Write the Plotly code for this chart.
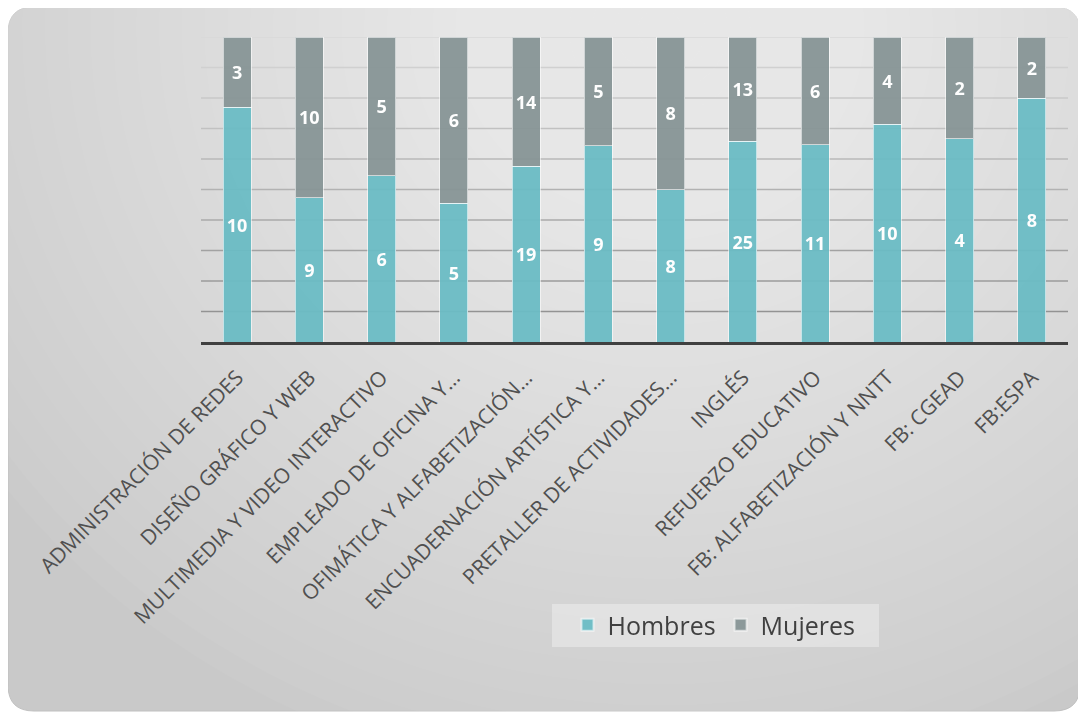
import plotly.graph_objects as go

categories = [
    "ADMINISTRACIÓN DE REDES",
    "DISEÑO GRÁFICO Y WEB",
    "MULTIMEDIA Y VIDEO INTERACTIVO",
    "EMPLEADO DE OFICINA Y…",
    "OFIMÁTICA Y ALFABETIZACIÓN…",
    "ENCUADERNACIÓN ARTÍSTICA Y…",
    "PRETALLER DE ACTIVIDADES…",
    "INGLÉS",
    "REFUERZO EDUCATIVO",
    "FB: ALFABETIZACIÓN Y NNTT",
    "FB: CGEAD",
    "FB:ESPA",
]
hombres = [10, 9, 6, 5, 19, 9, 8, 25, 11, 10, 4, 8]
mujeres = [3, 10, 5, 6, 14, 5, 8, 13, 6, 4, 2, 2]

OFF = 8  # browser body margin
W, H = 1086 - OFF, 715 - OFF
# screen-space plot area: x 201..1068, y 37..342
L, T = 201 - OFF, 37 - OFF
R = 1086 - 1068
B = 715 - 342
pw, ph = W - L - R, H - T - B


def px(x):  # screen x -> paper
    return (x - OFF - L) / pw


def py(y):  # screen y -> paper
    return (342 - y) / ph


fig = go.Figure()
for name, vals, col in (("Hombres", hombres, "#6bbcc5"), ("Mujeres", mujeres, "#879596")):
    fig.add_trace(go.Bar(
        x=categories, y=vals, name=name, opacity=0.95,
        marker=dict(color=col, line=dict(color="rgba(255,255,255,0.6)", width=1)),
        text=[str(v) for v in vals], textposition="inside", insidetextanchor="middle",
        textangle=0, constraintext="none",
        textfont=dict(color="white", size=18, family="Open Sans", weight="bold"),
        hoverinfo="skip",
    ))

shapes = []
# rounded background panel
x0, x1, y0, y1 = 8, 1080, 7, 711
r = 26
rx, ry = r / pw, r / ph
X0, X1, Y0, Y1 = px(x0), px(x1), py(y0), py(y1)
path = (f"M {X0+rx},{Y0} L {X1-rx},{Y0} Q {X1},{Y0} {X1},{Y0-ry} "
        f"L {X1},{Y1+ry} Q {X1},{Y1} {X1-rx},{Y1} L {X0+rx},{Y1} "
        f"Q {X0},{Y1} {X0},{Y1+ry} L {X0},{Y0-ry} Q {X0},{Y0} {X0+rx},{Y0} Z")
shapes.append(dict(type="path", path=path, xref="paper", yref="paper",
                   fillcolor="#c9c9c9", line=dict(color="#c0c0c0", width=1), layer="below"))
# soft radial highlight
n = 36
for i in range(n):
    f = 1 - i / n
    cx, cy = 660, 30
    ex, ey = 820 * f, 760 * f
    shapes.append(dict(type="circle", xref="paper", yref="paper",
                       x0=px(cx - ex), x1=px(cx + ex), y0=py(cy + ey), y1=py(cy - ey),
                       fillcolor="rgba(255,255,255,0.04)", line=dict(width=0), layer="below"))
# gridlines: lighter at top, darker near the axis
for k in range(1, 11):
    t = k / 10
    c = int(0x8c + (0xd8 - 0x8c) * t)
    shapes.append(dict(type="line", xref="paper", yref="y", x0=0, x1=1, y0=k * 10, y1=k * 10,
                       line=dict(color=f"rgb({c},{c},{c})", width=1.5), layer="below"))
# legend backdrop
shapes.append(dict(type="rect", xref="paper", yref="paper",
                   x0=px(552), x1=px(879), y0=py(647), y1=py(604),
                   fillcolor="rgba(240,240,240,0.5)", line=dict(width=0), layer="below"))

fig.update_layout(
    width=W, height=H,
    margin=dict(l=L, r=R, t=T, b=B),
    paper_bgcolor="white",
    plot_bgcolor="rgba(0,0,0,0)",
    barmode="stack", barnorm="percent",
    bargap=0.61,
    shapes=shapes,
    font=dict(family="Open Sans", color="#595959"),
    showlegend=True,
    legend=dict(orientation="h", traceorder="normal", x=px(714), y=py(625),
                xanchor="center", yanchor="middle",
                bgcolor="rgba(0,0,0,0)", font=dict(size=25, color="#404040"),
                borderwidth=0, itemsizing="constant"),
    xaxis=dict(tickangle=-45, tickfont=dict(size=21, color="#505050"), showline=True,
               linecolor="#404040", linewidth=3, ticks="outside", ticklen=12,
               tickcolor="rgba(0,0,0,0)", showgrid=False, fixedrange=True),
    yaxis=dict(range=[0, 100], dtick=10, showticklabels=False, showgrid=False,
               zeroline=False, ticks="", fixedrange=True),
)
fig.write_html("out.html")
